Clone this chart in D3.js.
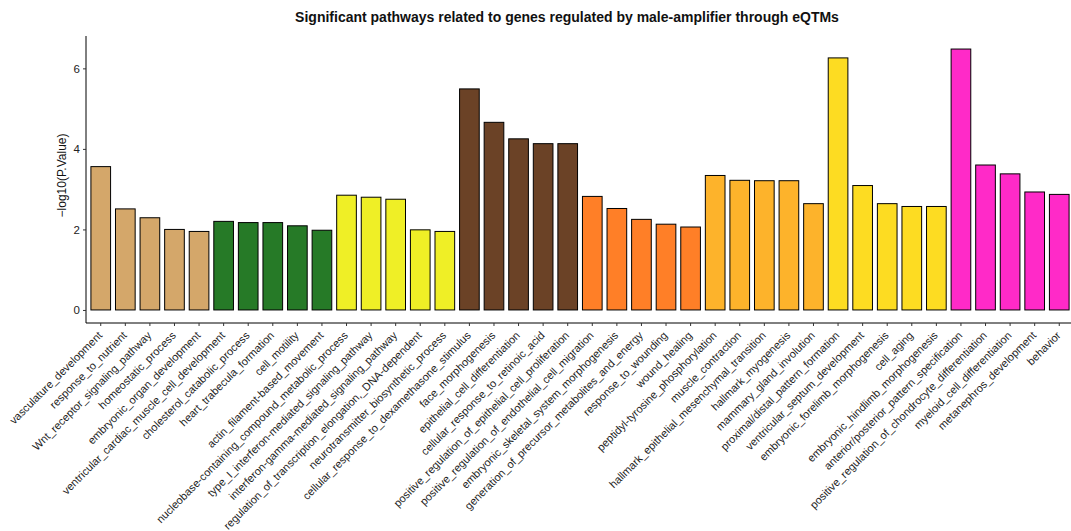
<!DOCTYPE html>
<html>
<head>
<meta charset="utf-8">
<script src="https://cdn.jsdelivr.net/npm/d3@7"></script>
<style>
  html, body { margin: 0; padding: 0; background: #fff; }
  svg { display: block; font-family: "Liberation Sans", Arial, Helvetica, sans-serif; }
</style>
</head>
<body>
<svg id="chart" width="1071" height="531"></svg>
<script>
// Pathway names, in plotting order
const pathways = [
  "vasculature_development", "response_to_nutrient", "Wnt_receptor_signaling_pathway",
  "homeostatic_process", "embryonic_organ_development",
  "ventricular_cardiac_muscle_cell_development", "cholesterol_catabolic_process",
  "heart_trabecula_formation", "cell_motility", "actin_filament-based_movement",
  "nucleobase-containing_compound_metabolic_process", "type_I_interferon-mediated_signaling_pathway",
  "interferon-gamma-mediated_signaling_pathway", "regulation_of_transcription_elongation,_DNA-dependent",
  "neurotransmitter_biosynthetic_process",
  "cellular_response_to_dexamethasone_stimulus", "face_morphogenesis",
  "epithelial_cell_differentiation", "cellular_response_to_retinoic_acid",
  "positive_regulation_of_epithelial_cell_proliferation",
  "positive_regulation_of_endothelial_cell_migration", "embryonic_skeletal_system_morphogenesis",
  "generation_of_precursor_metabolites_and_energy", "response_to_wounding", "wound_healing",
  "peptidyl-tyrosine_phosphorylation", "muscle_contraction",
  "hallmark_epithelial_mesenchymal_transition", "hallmark_myogenesis", "mammary_gland_involution",
  "proximal/distal_pattern_formation", "ventricular_septum_development",
  "embryonic_forelimb_morphogenesis", "cell_aging", "embryonic_hindlimb_morphogenesis",
  "anterior/posterior_pattern_specification", "positive_regulation_of_chondrocyte_differentiation",
  "myeloid_cell_differentiation", "metanephros_development", "behavior"
];

// -log10(P.Value) for each pathway
const negLogP = [
  3.56, 2.51, 2.29, 2.00, 1.95,
  2.20, 2.17, 2.17, 2.09, 1.98,
  2.85, 2.80, 2.75, 1.99, 1.95,
  5.49, 4.66, 4.25, 4.13, 4.13,
  2.82, 2.52, 2.25, 2.13, 2.06,
  3.34, 3.22, 3.21, 3.21, 2.64,
  6.26, 3.09, 2.64, 2.57, 2.57,
  6.48, 3.60, 3.38, 2.93, 2.87
];

// Module index for each pathway (selects the fill colour)
const modules = [
  0, 0, 0, 0, 0,
  1, 1, 1, 1, 1,
  2, 2, 2, 2, 2,
  3, 3, 3, 3, 3,
  4, 4, 4, 4, 4,
  5, 5, 5, 5, 5,
  6, 6, 6, 6, 6,
  7, 7, 7, 7, 7
];

const moduleColors = ["#d4a76a", "#267a27", "#efef26", "#6b4226", "#ff7f27", "#fdb32b", "#fddc22", "#ff2ac8"];

const yTicks = [0, 2, 4, 6];

const data = pathways.map((p, i) => ({ name: p, value: negLogP[i], module: modules[i] }));

const svg = d3.select("#chart");
const m = { left: 86, right: 1074, top: 36, bottom: 323 };

const maxV = d3.max(negLogP);
const x = d3.scaleBand()
  .domain(pathways)
  .range([m.left, m.right])
  .paddingInner(0.2)
  .paddingOuter(0.2);

const y = d3.scaleLinear()
  .domain([-0.05 * maxV, maxV * 1.05])
  .range([m.bottom, m.top]);

// Bars
svg.append("g")
  .selectAll("rect")
  .data(data)
  .join("rect")
  .attr("x", d => x(d.name))
  .attr("y", d => y(d.value))
  .attr("width", x.bandwidth())
  .attr("height", d => y(0) - y(d.value))
  .attr("fill", d => moduleColors[d.module])
  .attr("stroke", "#000")
  .attr("stroke-width", 1);

// Y axis
const yAxis = svg.append("g")
  .attr("transform", `translate(${m.left},0)`)
  .call(d3.axisLeft(y).tickValues(yTicks).tickSize(3).tickPadding(3).tickFormat(d3.format("d")));
yAxis.select(".domain").attr("d", `M0,${m.top}V${m.bottom}`).attr("stroke", "#000");
yAxis.selectAll("text").attr("font-size", 11.5).attr("fill", "#222").attr("font-family", "Liberation Sans, Arial, sans-serif");
yAxis.selectAll(".tick line").attr("stroke", "#333");

// X axis
const xAxis = svg.append("g")
  .attr("transform", `translate(0,${m.bottom})`)
  .call(d3.axisBottom(x).tickSize(3).tickPadding(3));
xAxis.select(".domain").attr("d", `M${m.left},0H${m.right}`).attr("stroke", "#000");
xAxis.selectAll(".tick line").attr("stroke", "#333");
xAxis.selectAll("text")
  .attr("font-size", 11)
  .attr("fill", "#222")
  .attr("font-family", "Liberation Sans, Arial, sans-serif")
  .attr("text-anchor", "end")
  .attr("transform", "translate(-6,5) rotate(-45)")
  .attr("x", 0)
  .attr("y", 6)
  .attr("dy", "0.5em");

// Y axis title
svg.append("text")
  .attr("transform", `translate(66,${(m.top + m.bottom) / 2 - 4}) rotate(-90)`)
  .attr("text-anchor", "middle")
  .attr("font-size", 12)
  .attr("fill", "#111")
  .text("\u2212log10(P.Value)");

// Chart title
svg.append("text")
  .attr("x", 567)
  .attr("y", 22)
  .attr("text-anchor", "middle")
  .attr("font-size", 14)
  .attr("font-weight", "bold")
  .attr("fill", "#111")
  .text("Significant pathways related to genes regulated by male-amplifier through eQTMs");
</script>
</body>
</html>
